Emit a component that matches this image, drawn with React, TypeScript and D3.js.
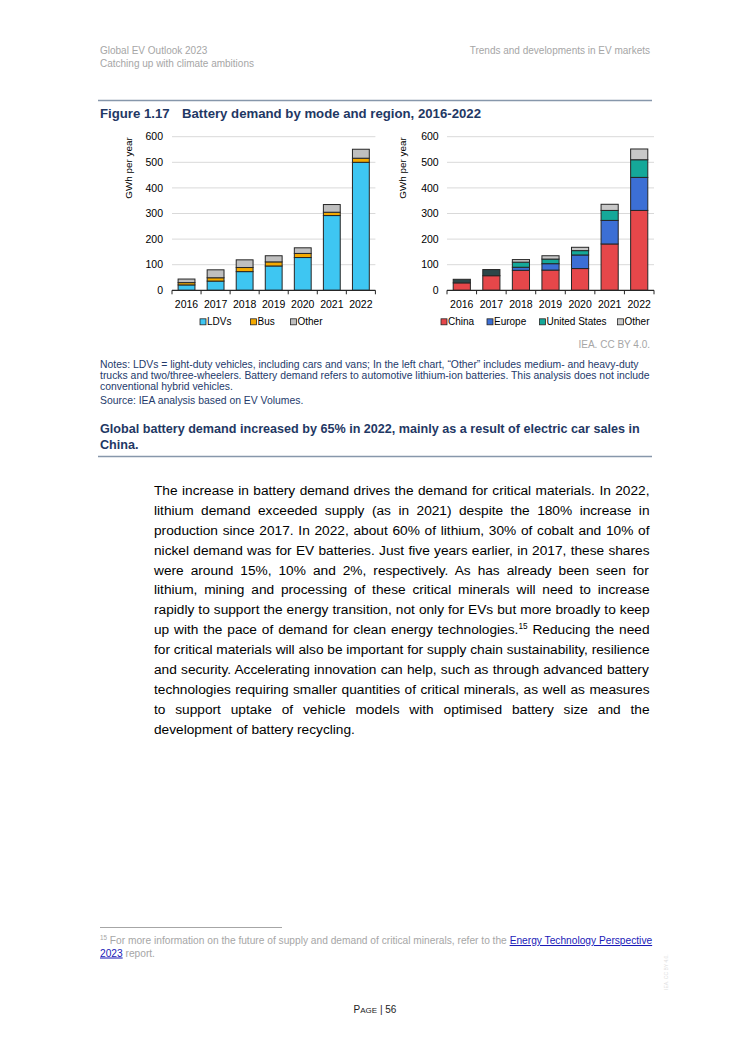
import React from "react";
import * as d3 from "d3";

const FONT = "Liberation Sans, Arial, sans-serif";

const years = ["2016", "2017", "2018", "2019", "2020", "2021", "2022"];
const yTicks = [0, 100, 200, 300, 400, 500, 600];

// Left chart: by mode (GWh per year)
const ldv = [21, 36, 73, 95, 128, 292, 500];
const bus = [9, 13, 16, 16, 16, 13, 16];
const otherMode = [14, 31, 30, 24, 22, 30, 35];

// Right chart: by region (GWh per year)
const china = [29, 57, 78, 79, 85, 181, 312];
const restEarly = [14, 24, 0, 0, 0, 0, 0];
const europe = [0, 0, 12, 25, 53, 92, 129];
const us = [0, 0, 20, 18, 17, 39, 69];
const otherRegion = [0, 0, 10, 13, 13, 24, 42];

const modeSeries = [
  { key: "LDVs", values: ldv, color: "#3EC6F2", legend: true },
  { key: "Bus", values: bus, color: "#F4A900", legend: true },
  { key: "Other", values: otherMode, color: "#BFBFBF", legend: true },
];
const regionSeries = [
  { key: "China", values: china, color: "#E6474A", legend: true },
  { key: "Rest", values: restEarly, color: "#2C4749", legend: false },
  { key: "Europe", values: europe, color: "#3C6FD5", legend: true },
  { key: "United States", values: us, color: "#15A899", legend: true },
  { key: "Other", values: otherRegion, color: "#C8C8C8", legend: true },
];

const bodyLines = [
  [{ t: "The increase in battery demand drives the demand for critical materials. In 2022," }],
  [{ t: "lithium demand exceeded supply (as in 2021) despite the 180% increase in" }],
  [{ t: "production since 2017. In 2022, about 60% of lithium, 30% of cobalt and 10% of" }],
  [{ t: "nickel demand was for EV batteries. Just five years earlier, in 2017, these shares" }],
  [{ t: "were around 15%, 10% and 2%, respectively. As has already been seen for" }],
  [{ t: "lithium, mining and processing of these critical minerals will need to increase" }],
  [{ t: "rapidly to support the energy transition, not only for EVs but more broadly to keep" }],
  [
    { t: "up with the pace of demand for clean energy technologies." },
    { t: "15", sup: true },
    { t: " Reducing the need" },
  ],
  [{ t: "for critical materials will also be important for supply chain sustainability, resilience" }],
  [{ t: "and security. Accelerating innovation can help, such as through advanced battery" }],
  [{ t: "technologies requiring smaller quantities of critical minerals, as well as measures" }],
  [{ t: "to support uptake of vehicle models with optimised battery size and the" }],
  [{ t: "development of battery recycling." }],
];

const noteLines = [
  "Notes: LDVs = light-duty vehicles, including cars and vans; In the left chart, \u201cOther\u201d includes medium- and heavy-duty",
  "trucks and two/three-wheelers. Battery demand refers to automotive lithium-ion batteries. This analysis does not include",
  "conventional hybrid vehicles.",
];

let ctx: CanvasRenderingContext2D | null = null;
function measure(t: string, size: number, weight = "normal") {
  if (!ctx && typeof document !== "undefined") {
    ctx = document.createElement("canvas").getContext("2d");
  }
  if (!ctx) return t.length * size * 0.5;
  ctx.font = `${weight} ${size}px ${FONT}`;
  return ctx.measureText(t).width;
}

type Series = { key: string; values: number[]; color: string; legend: boolean };

function StackChart(props: {
  series: Series[];
  x0: number;
  x1: number;
  tickRight: number;
  yLabelX: number;
  legend: { x: number }[];
}) {
  const { series, x0, x1, tickRight, yLabelX, legend } = props;
  const y = d3.scaleLinear().domain([0, 600]).range([290.3, 136.7]);
  const x = d3.scaleBand<string>().domain(years).range([x0, x1]).paddingInner(0.42).paddingOuter(0.21);
  const rows = years.map((yr, i) => {
    const r: any = { year: yr };
    series.forEach((s) => (r[s.key] = s.values[i]));
    return r;
  });
  const stack = d3.stack<any>().keys(series.map((s) => s.key));
  const stacked = stack(rows);
  const step = x.step();
  const legendSeries = series.filter((s) => s.legend);
  return (
    <g>
      {yTicks.map((t) =>
        t > 0 ? (
          <line key={"g" + t} x1={x0} x2={x1} y1={y(t)} y2={y(t)} stroke="#D9D9D9" strokeWidth={1} />
        ) : null
      )}
      {yTicks.map((t) => (
        <text key={"t" + t} x={tickRight} y={y(t) + 3.7} textAnchor="end" fontSize={10.5} fill="#000">
          {t}
        </text>
      ))}
      <text
        transform={`translate(${yLabelX},168) rotate(-90)`}
        textAnchor="middle"
        fontSize={9.9}
        fill="#000"
      >
        GWh per year
      </text>
      {stacked.map((layer, li) => (
        <g key={layer.key} fill={series[li].color}>
          {layer.map((d, i) =>
            d[1] - d[0] > 0 ? (
              <rect
                key={i}
                x={x(years[i])!}
                width={x.bandwidth()}
                y={y(d[1])}
                height={y(d[0]) - y(d[1])}
                stroke="#262626"
                strokeWidth={1}
              />
            ) : null
          )}
        </g>
      ))}
      <line x1={x0} x2={x1} y1={y(0)} y2={y(0)} stroke="#262626" strokeWidth={1.2} />
      {d3.range(years.length + 1).map((i) => (
        <line key={"k" + i} x1={x0 + i * step} x2={x0 + i * step} y1={y(0)} y2={y(0) + 4} stroke="#262626" strokeWidth={1} />
      ))}
      {years.map((yr) => (
        <text key={yr} x={x(yr)! + x.bandwidth() / 2} y={307.8} textAnchor="middle" fontSize={10.5} fill="#000">
          {yr}
        </text>
      ))}
      {legendSeries.map((s, i) => (
        <g key={"l" + s.key}>
          <rect x={legend[i].x} y={318.8} width={6} height={6} fill={s.color} stroke="#262626" strokeWidth={0.8} />
          <text x={legend[i].x + 7} y={325.3} fontSize={10} fill="#000">
            {s.key}
          </text>
        </g>
      ))}
    </g>
  );
}

export default function App() {
  const bodyFs = 13.7;
  const bodyX = 154;
  const bodyW = 495.5;
  const lineH = 19.88;
  return (
    <div style={{ position: "absolute", left: 0, top: 0 }}>
      <svg width={750} height={1061} xmlns="http://www.w3.org/2000/svg" style={{ display: "block", fontFamily: FONT }}>
        <rect x={0} y={0} width={750} height={1061} fill="#fff" />
        {/* header */}
        <text x={100} y={53.5} fontSize={10} fill="#A6A6A6">Global EV Outlook 2023</text>
        <text x={100} y={67} fontSize={10} fill="#A6A6A6">Catching up with climate ambitions</text>
        <text x={650} y={53.5} fontSize={10} fill="#A6A6A6" textAnchor="end">Trends and developments in EV markets</text>
        <line x1={98} x2={652} y1={100.5} y2={100.5} stroke="#8797AB" strokeWidth={1.3} />
        {/* title */}
        <text x={100} y={117.5} fontSize={13.2} fontWeight="bold" fill="#1F3864">Figure 1.17</text>
        <text x={182} y={117.5} fontSize={13.2} fontWeight="bold" fill="#1F3864">
          Battery demand by mode and region, 2016-2022
        </text>
        <StackChart
          series={modeSeries}
          x0={172}
          x1={375.4}
          tickRight={163}
          yLabelX={131.5}
          legend={[{ x: 200 }, { x: 250.5 }, { x: 290.5 }]}
        />
        <StackChart
          series={regionSeries}
          x0={447}
          x1={654}
          tickRight={438.7}
          yLabelX={406}
          legend={[{ x: 441 }, { x: 487 }, { x: 539.5 }, { x: 617.5 }]}
        />
        <text x={650} y={348} fontSize={10} fill="#A6A6A6" textAnchor="end">IEA. CC BY 4.0.</text>
        {/* notes */}
        {noteLines.map((l, i) => (
          <text key={"n" + i} x={100} y={367.5 + i * 11.4} fontSize={10.4} fill="#243A6B">{l}</text>
        ))}
        <text x={100} y={403.5} fontSize={10.4} fill="#243A6B">Source: IEA analysis based on EV Volumes.</text>
        {/* key message */}
        <text x={100} y={432.5} fontSize={12.6} fontWeight="bold" fill="#1F3864">
          Global battery demand increased by 65% in 2022, mainly as a result of electric car sales in
        </text>
        <text x={100} y={448.5} fontSize={12.6} fontWeight="bold" fill="#1F3864">China.</text>
        <line x1={98} x2={652} y1={456.5} y2={456.5} stroke="#8797AB" strokeWidth={1.3} />
        {/* body */}
        {bodyLines.map((segs, i) => {
          const last = i === bodyLines.length - 1;
          let natural = 0;
          let spaces = 0;
          segs.forEach((s) => {
            natural += measure(s.t, s.sup ? bodyFs * 0.6 : bodyFs);
            if (!s.sup) spaces += (s.t.match(/ /g) || []).length;
          });
          const ws = last || spaces === 0 ? 0 : (bodyW - natural) / spaces;
          return (
            <text key={"b" + i} x={bodyX} y={495 + i * lineH} fontSize={bodyFs} fill="#000" style={{ wordSpacing: ws + "px" }}>
              {segs.map((s, j) =>
                s.sup ? (
                  <tspan key={j} fontSize={bodyFs * 0.6} dy={-bodyFs * 0.4}>{s.t}</tspan>
                ) : (
                  <tspan key={j} dy={j > 0 && segs[j - 1].sup ? bodyFs * 0.4 : 0}>{s.t}</tspan>
                )
              )}
            </text>
          );
        })}
        {/* footnote */}
        <line x1={100} x2={282} y1={927.5} y2={927.5} stroke="#A6A6A6" strokeWidth={1} />
        <text x={100} y={944} fontSize={10.2} fill="#A6A6A6">
          <tspan fontSize={6.3} dy={-3.7}>15</tspan>
          <tspan dy={3.7}> For more information on the future of supply and demand of critical minerals, refer to the </tspan>
          <tspan fill="#1A1AB8" style={{ textDecoration: "underline" }}>Energy Technology Perspective</tspan>
        </text>
        <text x={100} y={956.5} fontSize={10.2} fill="#A6A6A6">
          <tspan fill="#1A1AB8" style={{ textDecoration: "underline" }}>2023</tspan>
          <tspan> report.</tspan>
        </text>
        {/* page number */}
        <text x={375} y={1013} fontSize={10} fill="#222" textAnchor="middle">
          <tspan>P</tspan>
          <tspan fontSize={8}>AGE</tspan>
          <tspan> | 56</tspan>
        </text>
        <text transform="translate(668,990) rotate(-90)" fontSize={5} fill="#DDDDDD">IEA. CC BY 4.0.</text>
      </svg>
    </div>
  );
}
